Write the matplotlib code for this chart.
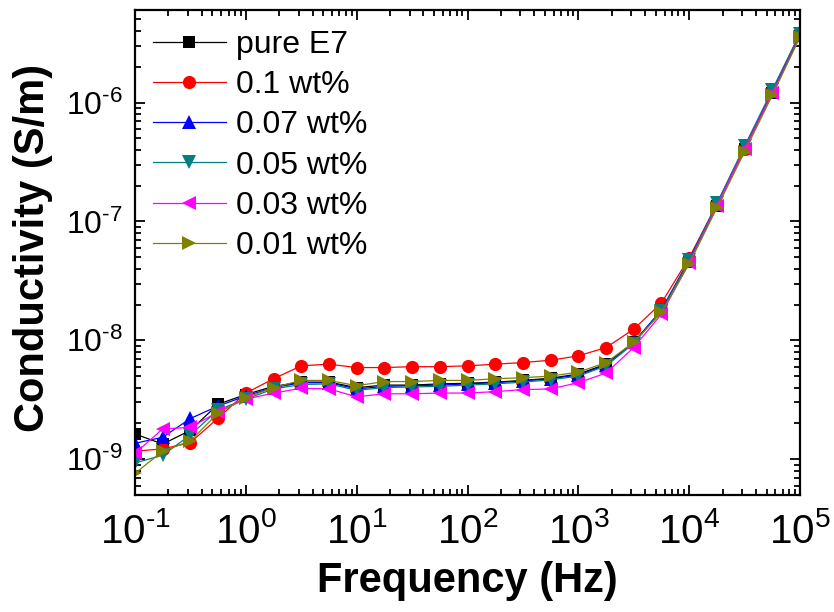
import matplotlib
matplotlib.use("Agg")
import matplotlib.pyplot as plt
from matplotlib.ticker import FixedLocator, LogLocator, NullFormatter, FuncFormatter
import math

plt.rcParams['font.family'] = ['Liberation Sans', 'DejaVu Sans']
plt.rcParams['mathtext.fontset'] = 'custom'
plt.rcParams['mathtext.rm'] = 'Liberation Sans'
plt.rcParams['mathtext.it'] = 'Liberation Sans:italic'
plt.rcParams['mathtext.bf'] = 'Liberation Sans:bold'

freq = [0.1, 0.178, 0.316, 0.562, 1, 1.78, 3.16, 5.62, 10, 17.8, 31.6, 56.2,
        100, 178, 316, 562, 1000, 1780, 3160, 5620, 10000, 17800, 31600, 56200, 100000]

pure_e7 = [1.63e-9, 1.34e-9, 1.75e-9, 2.9e-9, 3.5e-9, 4.1e-9, 4.45e-9, 4.45e-9, 4.0e-9, 4.2e-9,
           4.2e-9, 4.3e-9, 4.35e-9, 4.45e-9, 4.6e-9, 4.8e-9, 5.2e-9, 6.3e-9, 9.6e-9, 1.78e-8,
           4.6e-8, 1.36e-7, 4.1e-7, 1.2e-6, 3.65e-6]
wt_01 = [1.17e-9, 1.22e-9, 1.38e-9, 2.22e-9, 3.6e-9, 4.75e-9, 6.1e-9, 6.3e-9, 5.9e-9, 5.9e-9,
         6.0e-9, 6.0e-9, 6.1e-9, 6.3e-9, 6.5e-9, 6.8e-9, 7.4e-9, 8.7e-9, 1.24e-8, 2.06e-8,
         4.95e-8, 1.39e-7, 4.05e-7, 1.24e-6, 3.85e-6]
wt_007 = [1.36e-9, 1.53e-9, 2.2e-9, 2.8e-9, 3.4e-9, 4.0e-9, 4.4e-9, 4.4e-9, 3.9e-9, 4.1e-9,
          4.15e-9, 4.2e-9, 4.3e-9, 4.4e-9, 4.55e-9, 4.75e-9, 5.1e-9, 6.2e-9, 9.6e-9, 1.8e-8,
          4.8e-8, 1.4e-7, 4.2e-7, 1.24e-6, 3.7e-6]
wt_005 = [0.93e-9, 1.08e-9, 1.6e-9, 2.6e-9, 3.2e-9, 3.9e-9, 4.25e-9, 4.3e-9, 3.8e-9, 4.0e-9,
          4.05e-9, 4.1e-9, 4.2e-9, 4.3e-9, 4.45e-9, 4.65e-9, 5.0e-9, 6.1e-9, 9.4e-9, 1.76e-8,
          4.7e-8, 1.42e-7, 4.3e-7, 1.28e-6, 3.8e-6]
wt_003 = [1.12e-9, 1.8e-9, 1.85e-9, 2.5e-9, 3.2e-9, 3.6e-9, 3.95e-9, 3.9e-9, 3.35e-9, 3.55e-9,
          3.55e-9, 3.6e-9, 3.6e-9, 3.7e-9, 3.85e-9, 3.9e-9, 4.4e-9, 5.3e-9, 8.7e-9, 1.66e-8,
          4.5e-8, 1.36e-7, 4.1e-7, 1.2e-6, 3.6e-6]
wt_001 = [0.76e-9, 1.17e-9, 1.42e-9, 2.45e-9, 3.3e-9, 4.0e-9, 4.6e-9, 4.6e-9, 4.15e-9, 4.5e-9,
          4.5e-9, 4.6e-9, 4.6e-9, 4.75e-9, 4.85e-9, 5.0e-9, 5.4e-9, 6.5e-9, 9.6e-9, 1.72e-8,
          4.4e-8, 1.3e-7, 3.85e-7, 1.15e-6, 3.55e-6]

labels = ['pure E7', '0.1 wt%', '0.07 wt%', '0.05 wt%', '0.03 wt%', '0.01 wt%']
series = [pure_e7, wt_01, wt_007, wt_005, wt_003, wt_001]
colors = ['#000000', '#FF0000', '#0000FF', '#008080', '#FF00FF', '#808000']
markers = ['s', 'o', '^', 'v', '<', '>']
msizes = [8.5, 9.5, 9.5, 9.5, 9.5, 9.5]

x_major = [1e-1, 1e0, 1e1, 1e2, 1e3, 1e4, 1e5]
y_major = [1e-9, 1e-8, 1e-7, 1e-6]

fig = plt.figure(figsize=(8.34, 6.12), dpi=100)
ax = fig.add_axes([135/834, 117/612, 665/834, 485/612])

for y, lab, c, m, ms in zip(series, labels, colors, markers, msizes):
    ax.plot(freq, y, color=c, marker=m, markersize=ms, markeredgewidth=0,
            linewidth=0.9, label=lab)

ax.set_xscale('log')
ax.set_yscale('log')
ax.set_xlim(1e-1, 1e5)
ax.set_ylim(5e-10, 6e-6)


def pow_fmt(v, pos):
    e = int(round(math.log10(v)))
    if e < 0:
        return r'$10^{\text{-}%d}$' % (-e)
    return r'$10^{%d}$' % e


ax.xaxis.set_major_locator(FixedLocator(x_major))
ax.xaxis.set_minor_locator(LogLocator(base=10, subs=range(2, 10), numticks=100))
ax.yaxis.set_major_locator(FixedLocator(y_major))
ax.yaxis.set_minor_locator(LogLocator(base=10, subs=range(2, 10), numticks=100))
ax.xaxis.set_major_formatter(FuncFormatter(pow_fmt))
ax.yaxis.set_major_formatter(FuncFormatter(pow_fmt))
ax.xaxis.set_minor_formatter(NullFormatter())
ax.yaxis.set_minor_formatter(NullFormatter())

for s in ax.spines.values():
    s.set_linewidth(1.6)
ax.tick_params(which='both', direction='in', top=True, right=True, width=1.3)
ax.tick_params(which='major', length=7)
ax.tick_params(which='minor', length=4)
ax.tick_params(axis='x', which='major', labelsize=29, pad=12)
ax.tick_params(axis='y', which='major', labelsize=23, pad=9)

ax.set_xlabel('Frequency (Hz)', fontsize=30, fontweight='bold')
ax.set_ylabel('Conductivity (S/m)', fontsize=30, fontweight='bold')
ax.xaxis.set_label_coords(0.5, -0.137)
ax.yaxis.set_label_coords(-0.123, 0.51)

leg = ax.legend(loc='upper left', bbox_to_anchor=(0.027, 0.959), frameon=False,
                fontsize=23, handlelength=2.28, handletextpad=0.31, labelspacing=0.32,
                borderaxespad=0, borderpad=0)

fig.savefig('out.png', dpi=100)
